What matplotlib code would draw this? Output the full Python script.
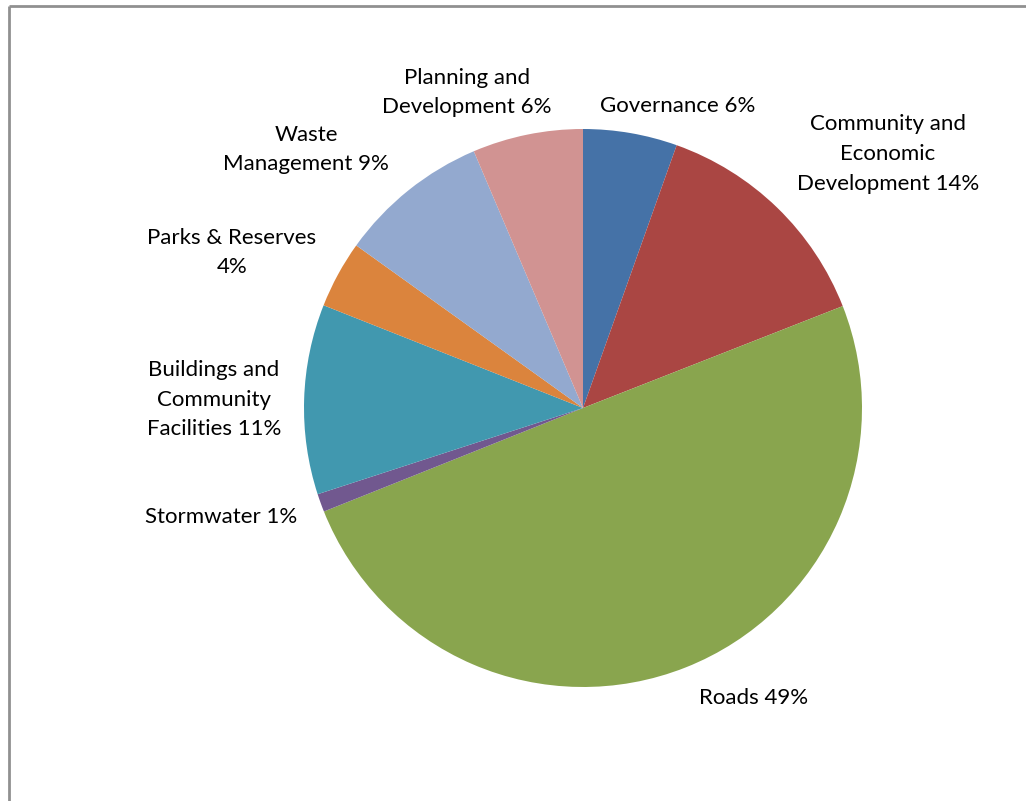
import matplotlib
matplotlib.use("Agg")
import matplotlib.pyplot as plt

categories = ["Governance", "Community and\nEconomic\nDevelopment", "Roads", "Stormwater",
              "Buildings and\nCommunity\nFacilities", "Parks & Reserves\n", "Waste\nManagement",
              "Planning and\nDevelopment"]
values = [5.45, 13.6, 49.9, 1.05, 11.0, 3.9, 8.7, 6.4]
pct_labels = ["6%", "14%", "49%", "1%", "11%", "4%", "9%", "6%"]
colors = ["#4572A7", "#AA4643", "#89A54E", "#71588F", "#4198AF", "#DB843D", "#93A9CF", "#D19392"]

# label anchor positions in pixel coordinates (x, y from top)
label_pos = [(678, 105.5), (888, 154), (754, 698), (221, 517), (214, 399.5), (232, 252.5), (306, 149.5), (467, 92.5)]

W, H = 1026, 801
fig = plt.figure(figsize=(W / 100, H / 100), dpi=100)
ax = fig.add_axes([0, 0, 1, 1])

cx, cy, r = 583, H - 408, 279
ax.pie(values, colors=colors, startangle=90, counterclock=False,
       center=(cx, cy), radius=r, frame=True,
       wedgeprops=dict(linewidth=0))
ax.set_xlim(0, W)
ax.set_ylim(0, H)
ax.set_aspect("equal")
ax.axis("off")

for cat, pct, (x, y) in zip(categories, pct_labels, label_pos):
    txt = cat + pct if cat.endswith("\n") else cat + " " + pct
    ax.text(x, H - y, txt, ha="center", va="center", fontsize=16, family="Lato",
            linespacing=1.62, color="black")

# outer frame
ax.plot([9, 9], [0, H - 6], color="#909090", lw=2, solid_capstyle="butt")
ax.plot([9, W], [H - 6, H - 6], color="#909090", lw=2, solid_capstyle="butt")

fig.savefig("out.png", dpi=100)
